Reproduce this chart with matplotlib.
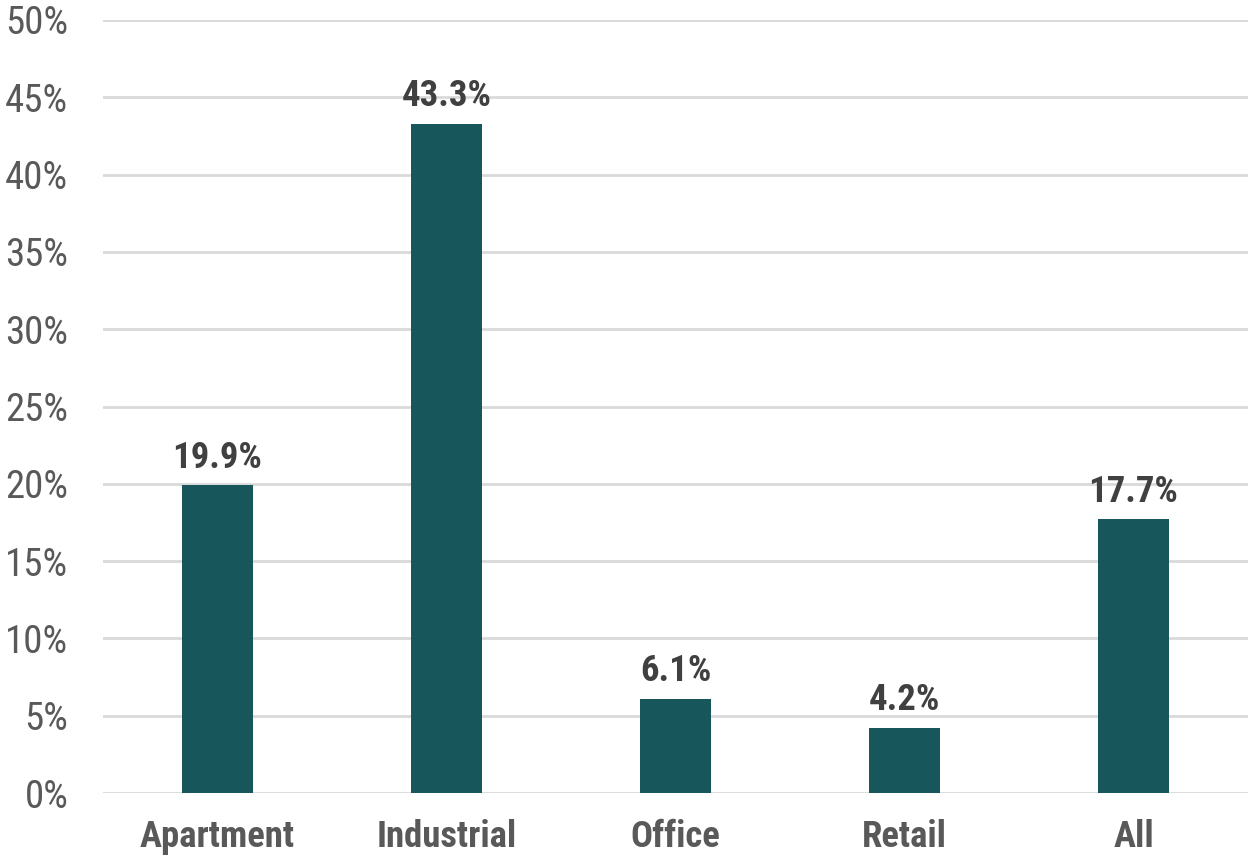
import matplotlib
matplotlib.use("Agg")
import matplotlib.pyplot as plt
from matplotlib.ticker import FuncFormatter, MultipleLocator

categories = ["Apartment", "Industrial", "Office", "Retail", "All"]
values = [19.9, 43.3, 6.1, 4.2, 17.7]

plt.rcParams["font.family"] = ["Roboto Condensed", "DejaVu Sans"]

fig = plt.figure(figsize=(12.49, 8.61), dpi=100)
ax = fig.add_axes([103 / 1249, 68 / 861, 1145 / 1249, 773 / 861])

x = range(len(categories))
ax.bar(x, values, width=0.31, color="#17575C", zorder=3)

# value labels above each bar
for xi, v in zip(x, values):
    ax.annotate(f"{v:.1f}%", (xi, v), xytext=(0, 7), textcoords="offset points",
                ha="center", va="bottom", fontsize=26.5, fontweight="bold", color="#404040")

ax.set_xlim(-0.5, len(categories) - 0.5)
ax.set_ylim(0, 50)
ax.yaxis.set_major_locator(MultipleLocator(5))
ax.yaxis.set_major_formatter(FuncFormatter(lambda y, _: f"{y:.0f}%"))
ax.grid(axis="y", color="#D9D9D9", linewidth=2, zorder=0)
ax.set_xticks(list(x))
ax.set_xticklabels(categories, fontsize=26.5, fontweight="bold", color="#595959")
ax.tick_params(axis="y", labelsize=28, labelcolor="#595959", length=0, pad=25)
ax.tick_params(axis="x", length=0, pad=19)
for s in ax.spines.values():
    s.set_visible(False)

fig.savefig("out.png", dpi=100)
